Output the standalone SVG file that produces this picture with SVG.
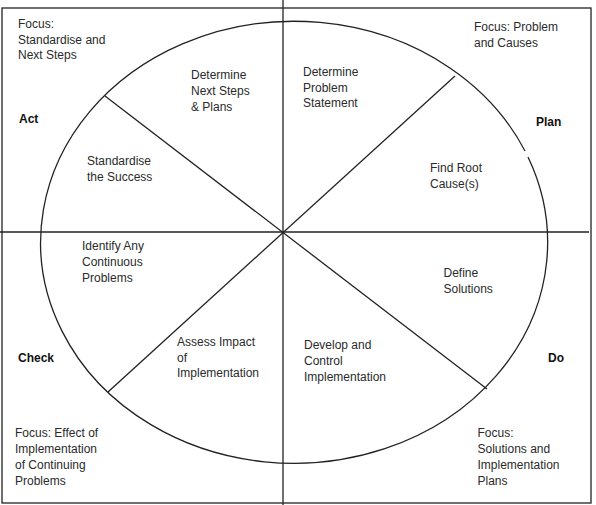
<svg xmlns="http://www.w3.org/2000/svg" width="596" height="505" viewBox="0 0 596 505">
  <style>
    .ln { fill: none; stroke: #222; stroke-width: 1.3; }
    .t { font-family: "Liberation Sans", Arial, sans-serif; font-size: 12px; fill: #2a2a2a; }
    .b { font-family: "Liberation Sans", Arial, sans-serif; font-size: 12px; font-weight: bold; fill: #111; }
  </style>
  <rect width="596" height="505" fill="#ffffff"/>
  <g id="frame">
    <rect class="ln" x="2" y="8" width="589" height="495" stroke="#333"/>
    <path class="ln" d="M 525,151 A 253.5 221 0 1 0 528,157"/>
  </g>
  <g id="connectors">
    <line class="ln" x1="283" y1="0" x2="283" y2="505"/>
    <line class="ln" x1="0" y1="232" x2="589" y2="232"/>
    <line class="ln" x1="105" y1="96" x2="487" y2="389"/>
    <line class="ln" x1="455" y1="76" x2="108" y2="392"/>
  </g>
  <g id="focus-act">
    <text class="t" x="18" y="28">Focus:</text>
    <text class="t" x="18" y="43.5">Standardise and</text>
    <text class="t" x="18" y="59">Next Steps</text>
  </g>
  <g id="determine-next-steps">
    <text class="t" x="191" y="79">Determine</text>
    <text class="t" x="191" y="95">Next Steps</text>
    <text class="t" x="191" y="111">&amp; Plans</text>
  </g>
  <g id="act"><text class="b" x="19" y="123">Act</text></g>
  <g id="focus-plan">
    <text class="t" x="474" y="31">Focus: Problem</text>
    <text class="t" x="474" y="47">and Causes</text>
  </g>
  <g id="determine-problem">
    <text class="t" x="303" y="76">Determine</text>
    <text class="t" x="303" y="91.5">Problem</text>
    <text class="t" x="303" y="107">Statement</text>
  </g>
  <g id="plan"><text class="b" x="536" y="126">Plan</text></g>
  <g id="standardise">
    <text class="t" x="87" y="164.5">Standardise</text>
    <text class="t" x="87" y="181">the Success</text>
  </g>
  <g id="find-root">
    <text class="t" x="430" y="171.5">Find Root</text>
    <text class="t" x="430" y="188">Cause(s)</text>
  </g>
  <g id="identify">
    <text class="t" x="82" y="250">Identify Any</text>
    <text class="t" x="82" y="265.5">Continuous</text>
    <text class="t" x="82" y="281.5">Problems</text>
  </g>
  <g id="define">
    <text class="t" x="443.5" y="277">Define</text>
    <text class="t" x="443.5" y="293">Solutions</text>
  </g>
  <g id="check"><text class="b" x="18" y="362">Check</text></g>
  <g id="assess">
    <text class="t" x="177" y="345.5">Assess Impact</text>
    <text class="t" x="177" y="361.5">of</text>
    <text class="t" x="177" y="377">Implementation</text>
  </g>
  <g id="develop">
    <text class="t" x="304" y="349">Develop and</text>
    <text class="t" x="304" y="365">Control</text>
    <text class="t" x="304" y="381">Implementation</text>
  </g>
  <g id="do"><text class="b" x="548" y="362">Do</text></g>
  <g id="focus-check">
    <text class="t" x="15" y="437">Focus: Effect of</text>
    <text class="t" x="15" y="452.5">Implementation</text>
    <text class="t" x="15" y="468.5">of Continuing</text>
    <text class="t" x="15" y="485">Problems</text>
  </g>
  <g id="focus-do">
    <text class="t" x="477.5" y="437">Focus:</text>
    <text class="t" x="477.5" y="453">Solutions and</text>
    <text class="t" x="477.5" y="469">Implementation</text>
    <text class="t" x="477.5" y="485">Plans</text>
  </g>
</svg>
